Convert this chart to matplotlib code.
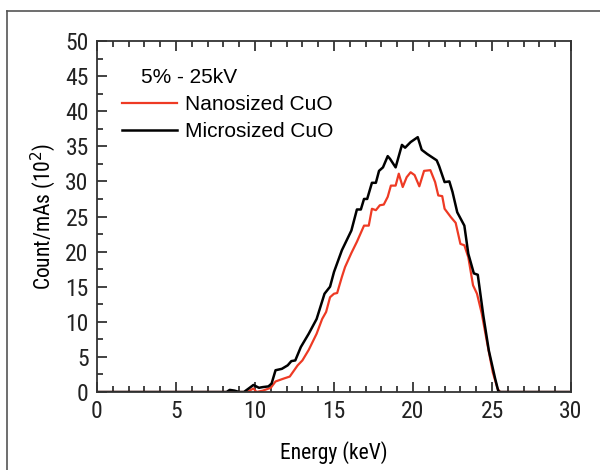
import matplotlib
matplotlib.use('Agg')
import matplotlib.pyplot as plt
from matplotlib.lines import Line2D
from matplotlib.ticker import MultipleLocator

# ── Datos ─────────────────────────────────────────────────────────────────────
micro_e = [0, 8.2, 8.4, 8.7, 9.0, 9.3, 9.6, 9.9, 10.25, 10.5, 10.85, 11.05, 11.3,
           11.7, 12.07, 12.3, 12.55, 12.9, 13.4, 13.9, 14.4, 14.75, 15.0, 15.5,
           16.1, 16.45, 16.7, 16.9, 17.1, 17.4, 17.65, 17.85, 18.1, 18.4, 18.55,
           18.9, 19.3, 19.5, 19.85, 20.3, 20.55, 20.9, 21.5, 21.65, 22.0, 22.3,
           22.5, 22.8, 23.25, 23.5, 23.85, 24.1, 24.45, 24.8, 25.2, 25.4, 25.55, 30]
micro_v = [0, 0, 0.3, 0.2, 0, 0, 0.5, 1.0, 0.6, 0.7, 0.8, 1.2, 3.1,
           3.3, 3.8, 4.4, 4.5, 6.4, 8.3, 10.4, 14.0, 15.0, 17.1, 20.2,
           23.0, 26.0, 26.0, 27.5, 27.5, 29.8, 29.8, 31.5, 32.0, 33.6, 33.2,
           32.0, 35.2, 34.8, 35.6, 36.3, 34.5, 33.9, 33.0, 32.2, 29.9, 30.0,
           28.5, 25.6, 23.7, 19.7, 16.9, 16.7, 10.9, 5.9, 1.9, 0.1, 0, 0]

nano_e = [0, 9.5, 9.9, 10.1, 10.5, 11.0, 11.3, 11.8, 12.2, 12.7, 13.0, 13.4, 13.9,
          14.25, 14.5, 14.75, 15.0, 15.2, 15.5, 15.7, 16.1, 16.45, 16.9, 17.2,
          17.4, 17.65, 17.9, 18.15, 18.4, 18.6, 18.9, 19.1, 19.35, 19.6, 19.85,
          20.1, 20.4, 20.7, 21.1, 21.4, 21.6, 21.85, 22.0, 22.4, 22.7, 23.0,
          23.25, 23.5, 23.8, 24.05, 24.35, 24.7, 25.05, 25.35, 25.5, 30]
nano_v = [0, 0, 0.5, 0, 0.2, 0.6, 1.5, 1.9, 2.2, 3.8, 4.5, 6.0, 8.3,
          10.4, 11.4, 13.5, 14.0, 14.1, 16.4, 17.8, 19.8, 21.4, 23.7, 23.7,
          26.1, 25.9, 26.6, 26.7, 27.8, 29.4, 29.4, 31.1, 29.2, 30.6, 31.3,
          30.9, 29.3, 31.5, 31.6, 29.9, 28.0, 27.9, 26.1, 24.9, 24.1, 21.1,
          20.9, 19.2, 15.2, 14.0, 11.2, 6.9, 2.8, 0.5, 0, 0]

RED = '#ee3a24'
NARROW = ['Roboto Condensed', 'DejaVu Sans']
SANS = ['Liberation Sans', 'DejaVu Sans']

# ── Figura ────────────────────────────────────────────────────────────────────
fig = plt.figure(figsize=(6, 4.7), dpi=100)
ax = fig.add_axes([97 / 600, 1 - 392 / 470, 474 / 600, 351 / 470])

ax.plot(nano_e, nano_v, color=RED, lw=1.6, label='Nanosized CuO')
ax.plot(micro_e, micro_v, color='black', lw=1.8, label='Microsized CuO')

ax.set_xlim(0, 30)
ax.set_ylim(0, 50)
ax.xaxis.set_major_locator(MultipleLocator(5))
ax.xaxis.set_minor_locator(MultipleLocator(1))
ax.yaxis.set_major_locator(MultipleLocator(5))
ax.yaxis.set_minor_locator(MultipleLocator(2.5))
ax.tick_params(which='both', direction='in', top=True, right=False,
               colors='#222222', width=1.2)
ax.tick_params(which='major', length=7, labelsize=17, pad=6)
ax.tick_params(which='minor', length=4)
for lab in ax.get_xticklabels() + ax.get_yticklabels():
    lab.set_family(NARROW)
for sp in ax.spines.values():
    sp.set_color('#333333')
    sp.set_linewidth(1.3)

ax.set_xlabel('Energy (keV)', fontsize=15.5, family=NARROW, labelpad=13)
ax.set_ylabel('Count/mAs (10$^2$)', fontsize=15.5, family=NARROW, labelpad=5)

ax.text(0.093, 0.880, '5% - 25kV', transform=ax.transAxes, fontsize=15,
        family=SANS, va='baseline', ha='left')
ax.legend(loc='upper left', bbox_to_anchor=(0.053, 0.845), frameon=False,
          borderpad=0, borderaxespad=0, handlelength=2.65, handletextpad=0.35,
          labelspacing=0.38, prop={'family': SANS, 'size': 15})

# marco exterior
fig.add_artist(Line2D([7 / 600, 1], [1 - 11 / 470, 1 - 11 / 470],
                      transform=fig.transFigure, color='#555555', lw=1.2))
fig.add_artist(Line2D([7 / 600, 7 / 600], [0, 1 - 11 / 470],
                      transform=fig.transFigure, color='#555555', lw=1.2))

fig.savefig('out.png', dpi=100)
